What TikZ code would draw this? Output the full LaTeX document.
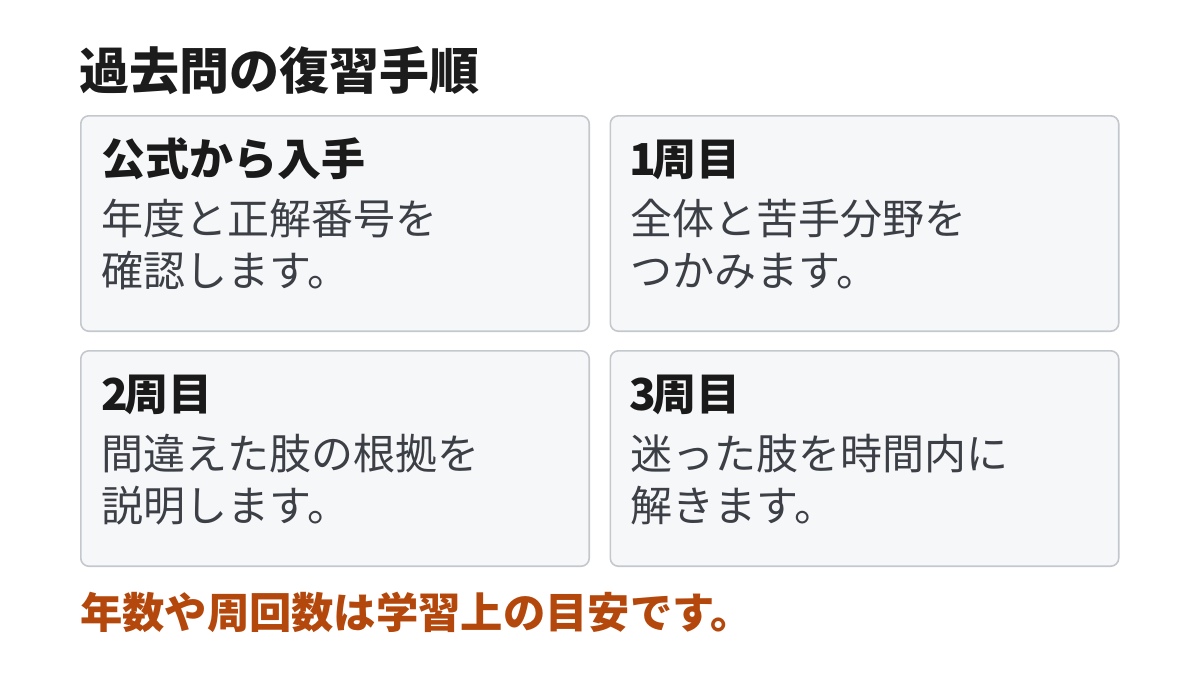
\documentclass[tikz,border=0pt]{standalone}
\usepackage{fontspec}
\setmainfont{Noto Sans CJK JP}
\definecolor{titlecol}{HTML}{1C1C1C}
\definecolor{headcol}{HTML}{1A1A1A}
\definecolor{bodycol}{HTML}{3C4046}
\definecolor{notecol}{HTML}{B4480C}
\definecolor{cardfill}{HTML}{F6F7F9}
\definecolor{cardline}{HTML}{C4C8CD}
\begin{document}
\begin{tikzpicture}[x=1pt,y=-1pt,
  card/.style={draw=cardline, fill=cardfill, line width=1.6pt, rounded corners=8pt,
    minimum width=508.4pt, minimum height=215.4pt, inner sep=0pt, outer sep=0pt},
  titletext/.style={anchor=base west, inner sep=0pt, text=titlecol, font=\fontsize{50}{58}\selectfont\bfseries},
  headtext/.style={anchor=base west, inner sep=0pt, text=headcol, font=\fontsize{44}{50}\selectfont\bfseries},
  bodytext/.style={anchor=base west, inner sep=0pt, text=bodycol, font=\fontsize{42}{52}\selectfont},
  notetext/.style={anchor=base west, inner sep=0pt, text=notecol, font=\fontsize{42.3}{50}\selectfont\bfseries}]
\useasboundingbox (0,0) rectangle (1200,675);
\fill[white] (0,0) rectangle (1200,675);
\node[titletext] (title) at (79.5,89) {過去問の復習手順};
\node[card] (c1) at (335,223.5) {};
\node[card] (c2) at (864.5,223.5) {};
\node[card] (c3) at (335,458.5) {};
\node[card] (c4) at (864.5,458.5) {};
\node[headtext] (h1) at (101,175.5) {公式から入手};
\node[bodytext] (b1a) at (101,234) {年度と正解番号を};
\node[bodytext] (b1b) at (101,286) {確認します。};
\node[headtext] (h2) at (629,175.5) {1\kern-4pt 周目};
\node[bodytext] (b2a) at (630,234) {全体と苦手分野を};
\node[bodytext] (b2b) at (630,286) {つかみます。};
\node[headtext] (h3) at (101,410.5) {2\kern-4pt 周目};
\node[bodytext] (b3a) at (101,469) {間違えた肢の根拠を};
\node[bodytext] (b3b) at (101,521) {説明します。};
\node[headtext] (h4) at (629,410.5) {3\kern-4pt 周目};
\node[bodytext] (b4a) at (630,469) {迷った肢を時間内に};
\node[bodytext] (b4b) at (630,521) {解きます。};
\node[notetext] (note) at (80,628) {年数や周回数は学習上の目安です。};
\end{tikzpicture}
\end{document}
